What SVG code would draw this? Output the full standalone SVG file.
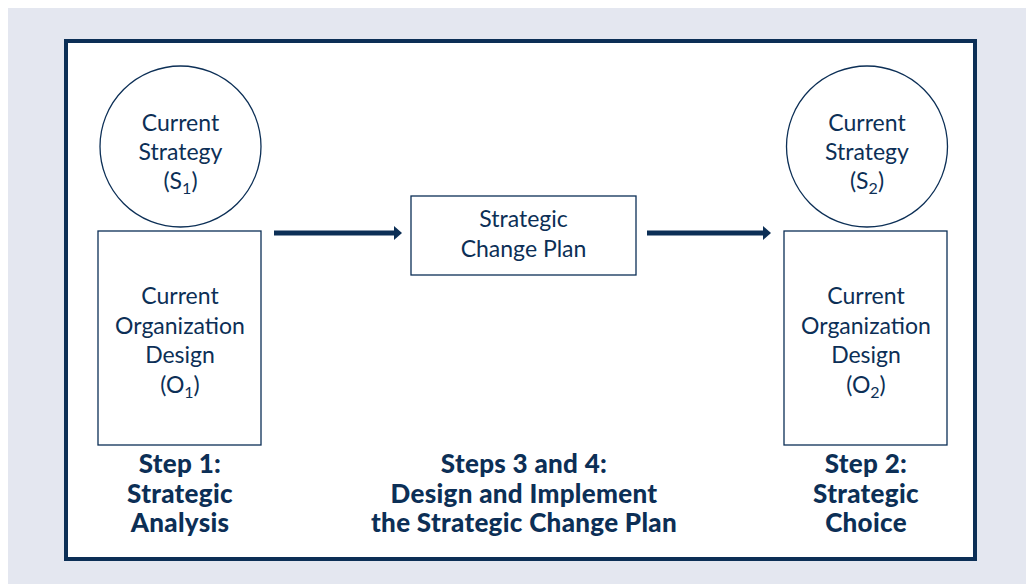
<svg xmlns="http://www.w3.org/2000/svg" width="1026" height="584" viewBox="0 0 1026 584">
<defs>
<style>
.bg{fill:#e4e7f0}
.frame{fill:#ffffff;stroke:#0c2f56;stroke-width:4}
.node{fill:#ffffff;stroke:#0c2f56;stroke-width:1.3}
.t{font-family:Lato,"Open Sans","DejaVu Sans",sans-serif;font-size:23px;fill:#0c2f56;text-anchor:middle}
.b{font-family:Lato,"Open Sans","DejaVu Sans",sans-serif;font-size:26px;font-weight:900;letter-spacing:0.3px;fill:#0c2f56;text-anchor:middle}
.sub{font-size:16px}
.conn{stroke:#0c2f56;stroke-width:5;fill:none}
</style>
<marker id="ah" viewBox="0 0 8 14" refX="0" refY="7" markerWidth="8" markerHeight="14" markerUnits="userSpaceOnUse" orient="auto">
<path d="M0,0 L8,7 L0,14 Z" fill="#0c2f56"/>
</marker>
</defs>
<rect class="bg" x="8" y="8" width="1018" height="576"/>
<rect class="frame" x="66" y="41" width="909" height="518"/>

<g id="connectors">
<line class="conn" x1="274" y1="233" x2="394" y2="233" marker-end="url(#ah)"/>
<line class="conn" x1="647" y1="233" x2="763" y2="233" marker-end="url(#ah)"/>
</g>

<g id="s1">
<circle class="node" cx="180.5" cy="146.5" r="80.5"/>
<text class="t" x="180.5" y="131">Current</text>
<text class="t" x="180.5" y="160">Strategy</text>
<text class="t" x="180.5" y="189">(S<tspan class="sub" dy="5">1</tspan><tspan dy="-5">)</tspan></text>
</g>
<g id="o1">
<rect class="node" x="98" y="231" width="163" height="214"/>
<text class="t" x="180" y="304">Current</text>
<text class="t" x="180" y="334">Organization</text>
<text class="t" x="180" y="363">Design</text>
<text class="t" x="180" y="393">(O<tspan class="sub" dy="5">1</tspan><tspan dy="-5">)</tspan></text>
</g>
<g id="plan">
<rect class="node" x="411" y="196" width="225" height="79"/>
<text class="t" x="523.5" y="227">Strategic</text>
<text class="t" x="523.5" y="257">Change Plan</text>
</g>
<g id="s2">
<circle class="node" cx="867" cy="146.5" r="80.5"/>
<text class="t" x="867" y="131">Current</text>
<text class="t" x="867" y="160">Strategy</text>
<text class="t" x="867" y="189">(S<tspan class="sub" dy="5">2</tspan><tspan dy="-5">)</tspan></text>
</g>
<g id="o2">
<rect class="node" x="784" y="231" width="163" height="214"/>
<text class="t" x="866" y="304">Current</text>
<text class="t" x="866" y="334">Organization</text>
<text class="t" x="866" y="363">Design</text>
<text class="t" x="866" y="393">(O<tspan class="sub" dy="5">2</tspan><tspan dy="-5">)</tspan></text>
</g>
<g id="step1">
<text class="b" x="180" y="473">Step 1:</text>
<text class="b" x="180" y="503">Strategic</text>
<text class="b" x="180" y="532">Analysis</text>
</g>
<g id="step34">
<text class="b" x="524" y="473">Steps 3 and 4:</text>
<text class="b" x="524" y="503">Design and Implement</text>
<text class="b" x="524" y="532">the Strategic Change Plan</text>
</g>
<g id="step2">
<text class="b" x="866" y="473">Step 2:</text>
<text class="b" x="866" y="503">Strategic</text>
<text class="b" x="866" y="532">Choice</text>
</g>
</svg>
